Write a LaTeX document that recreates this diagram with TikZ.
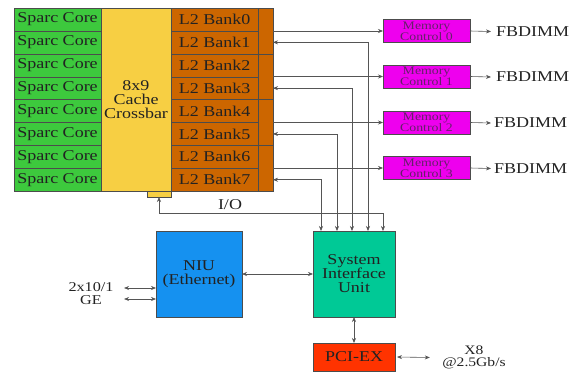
\documentclass[tikz,border=0pt]{standalone}
\usepackage{fontspec}
\setmainfont{Liberation Serif}[FakeStretch=1.2]
\usepackage{xcolor}
\usetikzlibrary{positioning, arrows.meta}
\definecolor{coregreen}{HTML}{3DC93D}
\definecolor{xbaryellow}{HTML}{F7CF43}
\definecolor{bankbrown}{HTML}{CC6600}
\definecolor{memmagenta}{HTML}{EE00EE}
\definecolor{memtext}{HTML}{66206A}
\definecolor{niublue}{HTML}{1591F0}
\definecolor{siuteal}{HTML}{00C996}
\definecolor{pcired}{HTML}{FF3300}
\definecolor{wiregray}{HTML}{555555}
\definecolor{inkgray}{HTML}{222222}

\begin{document}
\begin{tikzpicture}[x=1pt, y=-1pt, node distance=0pt,
    >={Stealth[length=5pt, width=4pt]},
    font=\fontsize{15}{14}\selectfont, text=inkgray]
  \tikzset{
    box/.style={rectangle, draw=black!70, fill=#1, inner sep=0pt, outer sep=0pt,
      align=center},
    cell/.style={box=#1, minimum width=87pt, minimum height=22.9pt},
    memctl/.style={box=memmagenta, minimum width=87pt, minimum height=23pt,
      text=memtext, font=\fontsize{11.5}{11}\selectfont},
    wire/.style={draw=wiregray, line width=0.6pt},
  }
  \useasboundingbox (0,0) rectangle (574,372);

  \node[cell=coregreen, anchor=north west] (c0) at (14,8) {Sparc Core};
  \node[cell=coregreen, below=of c0] (c1) {Sparc Core};
  \node[cell=coregreen, below=of c1] (c2) {Sparc Core};
  \node[cell=coregreen, below=of c2] (c3) {Sparc Core};
  \node[cell=coregreen, below=of c3] (c4) {Sparc Core};
  \node[cell=coregreen, below=of c4] (c5) {Sparc Core};
  \node[cell=coregreen, below=of c5] (c6) {Sparc Core};
  \node[cell=coregreen, below=of c6] (c7) {Sparc Core};

  \node[box=xbaryellow, minimum width=24pt, minimum height=6pt, anchor=north east]
        (tab) at (171,191) {};
  \node[box=xbaryellow, minimum width=70pt, minimum height=183.2pt, anchor=north west]
        (xbar) at (101,8) {8x9\\Cache\\Crossbar};

  \node[cell=bankbrown, anchor=north west] (b0) at (171,8) {L2 Bank0};
  \node[cell=bankbrown, below=of b0] (b1) {L2 Bank1};
  \node[cell=bankbrown, below=of b1] (b2) {L2 Bank2};
  \node[cell=bankbrown, below=of b2] (b3) {L2 Bank3};
  \node[cell=bankbrown, below=of b3] (b4) {L2 Bank4};
  \node[cell=bankbrown, below=of b4] (b5) {L2 Bank5};
  \node[cell=bankbrown, below=of b5] (b6) {L2 Bank6};
  \node[cell=bankbrown, below=of b6] (b7) {L2 Bank7};

  \node[box=bankbrown, minimum width=15pt, minimum height=45.8pt, anchor=north west]
        (s0) at (258,8) {};
  \node[box=bankbrown, minimum width=15pt, minimum height=45.8pt, below=of s0] (s1) {};
  \node[box=bankbrown, minimum width=15pt, minimum height=45.8pt, below=of s1] (s2) {};
  \node[box=bankbrown, minimum width=15pt, minimum height=45.8pt, below=of s2] (s3) {};

  \node[memctl] (m0) at (426.5,31) {Memory\\Control 0};
  \node[memctl] (m1) at (426.5,76.5) {Memory\\Control 1};
  \node[memctl] (m2) at (426.5,122.5) {Memory\\Control 2};
  \node[memctl] (m3) at (426.5,168) {Memory\\Control 3};

  \node[anchor=west, inner sep=0pt] (f0) at (496,31.5) {FBDIMM};
  \node[anchor=west, inner sep=0pt] (f1) at (496,77) {FBDIMM};
  \node[anchor=west, inner sep=0pt] (f2) at (494,123) {FBDIMM};
  \node[anchor=west, inner sep=0pt] (f3) at (494,168.5) {FBDIMM};

  \node[box=niublue, minimum width=86pt, minimum height=86pt, anchor=north west]
        (niu) at (156,231) {NIU\\(Ethernet)};
  \node[box=siuteal, minimum width=82pt, minimum height=86pt, anchor=north west]
        (siu) at (313,231) {System\\Interface\\Unit};
  \node[box=pcired, minimum width=82pt, minimum height=28pt, anchor=north west]
        (pci) at (313,343) {PCI-EX};

  \node[align=center, font=\fontsize{13.5}{13}\selectfont] (ge) at (91,293.5) {2x10/1\\GE};
  \node[align=center, font=\fontsize{13}{12.5}\selectfont] (x8) at (474,357.5) {X8\\@2.5Gb/s};
  \node (iolbl) at (230,205) {I/O};

  \coordinate (p1) at (321,231);
  \coordinate (p2) at (337,231);
  \coordinate (p3) at (352,231);
  \coordinate (p4) at (368,231);
  \coordinate (p5) at (383,231);

  \draw[wire, ->] (m0.west -| s0.east) -- (m0.west);
  \draw[wire, ->] (m1.west -| s0.east) -- (m1.west);
  \draw[wire, ->] (m2.west -| s0.east) -- (m2.west);
  \draw[wire, ->] (m3.west -| s0.east) -- (m3.west);

  \draw[wire, ->] (m0.east) -- ([xshift=-5pt]f0.west);
  \draw[wire, ->] (m1.east) -- ([xshift=-5pt]f1.west);
  \draw[wire, ->] (m2.east) -- ([xshift=-3pt]f2.west);
  \draw[wire, ->] (m3.east) -- ([xshift=-3pt]f3.west);

  \draw[wire, <->] (b1.east -| s0.east) -| (p4);
  \draw[wire, <->] (b3.east -| s0.east) -| (p3);
  \draw[wire, <->] (b5.east -| s0.east) -| (p2);
  \draw[wire, <->] (b7.east -| s0.east) -| (p1);
  \draw[wire, <->] (tab.south) |- ([yshift=18pt]p5) -- (p5);

  \draw[wire, <->] (niu.east) -- (siu.west);
  \draw[wire, <->] (siu.south) -- (pci.north);
  \draw[wire, <->] ([xshift=2pt]pci.east) -- ([xshift=-9pt]x8.west);
  \draw[wire, <->] ([xshift=7pt, yshift=5.5pt]ge.east) -- ([yshift=5.5pt]ge.east -| niu.west);
  \draw[wire, <->] ([xshift=7pt, yshift=-5.5pt]ge.east) -- ([yshift=-5.5pt]ge.east -| niu.west);
\end{tikzpicture}
\end{document}
